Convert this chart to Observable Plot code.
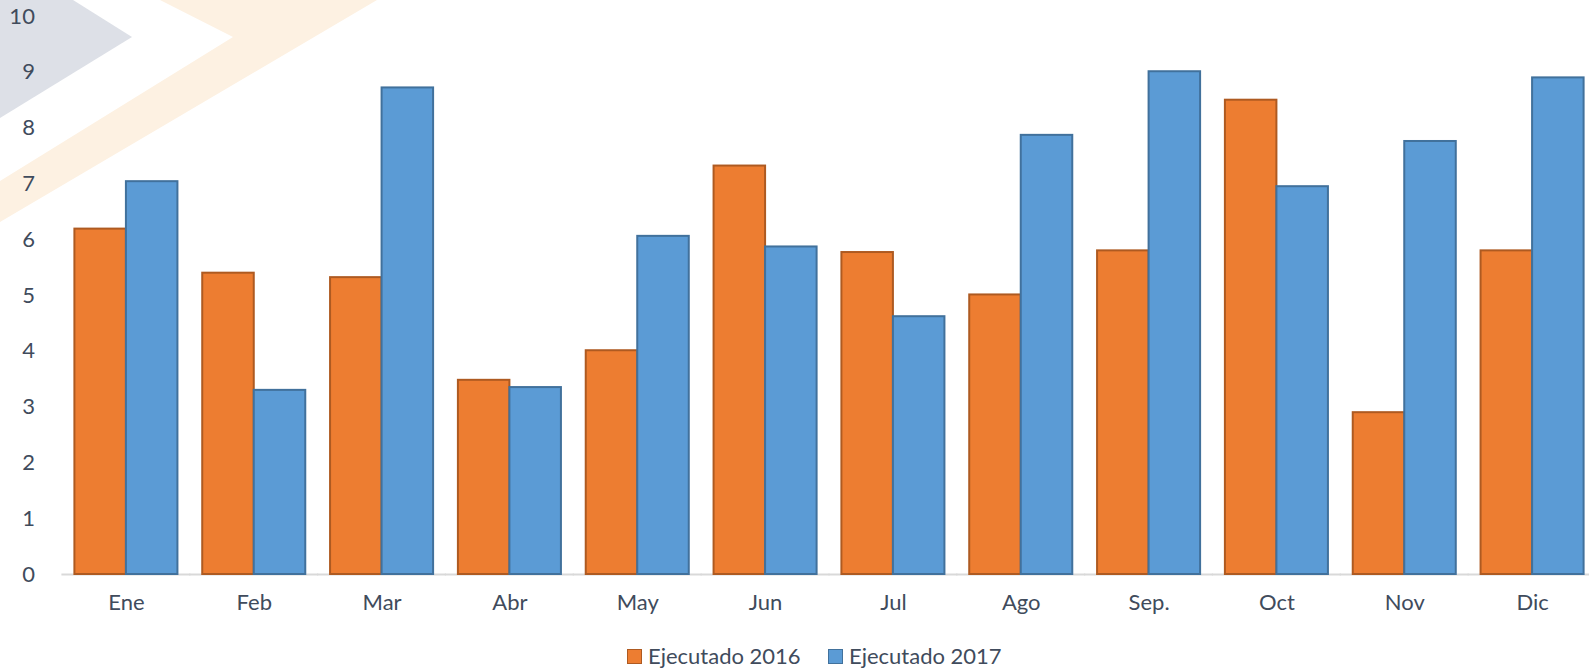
<!DOCTYPE html>
<html>
<head>
<meta charset="utf-8">
<script src="https://cdn.jsdelivr.net/npm/d3@7"></script>
<script src="https://cdn.jsdelivr.net/npm/@observablehq/plot@0.6"></script>
<style>
  html, body { margin: 0; padding: 0; background: #fff; overflow: hidden; }
  #wrap { position: relative; width: 1589px; height: 669px; overflow: hidden; font-family: Lato, "Open Sans", sans-serif; color: #404b5c; }
  #bg { position: absolute; left: 0; top: 0; z-index: 0; }
  #chart { position: absolute; left: 0; top: 0; z-index: 1; }
  #legend { position: absolute; left: 0; top: 630px; width: 1589px; height: 39px; z-index: 1; }
  .item { position: absolute; top: 13px; display: flex; align-items: center; font-size: 22px; line-height: 26px; }
  .sw { width: 13px; height: 13px; margin-right: 6px; box-sizing: content-box; }
</style>
</head>
<body>
<div id="wrap">
  <svg id="bg" width="1589" height="669">
    <polygon points="0,0 73,0 132,37 0,118" fill="#dde0e7"/>
    <polygon points="160,0 377,0 0,222 0,181 233,37" fill="#fdf1e2"/>
  </svg>
  <div id="chart"></div>
  <div id="legend"></div>
</div>
<script>
const months = ["Ene","Feb","Mar","Abr","May","Jun","Jul","Ago","Sep.","Oct","Nov","Dic"];
const series = ["Ejecutado 2016","Ejecutado 2017"];
const ejecutado2016 = [6.19, 5.40, 5.32, 3.48, 4.01, 7.32, 5.77, 5.01, 5.80, 8.50, 2.90, 5.80];
const ejecutado2017 = [7.04, 3.30, 8.72, 3.35, 6.06, 5.87, 4.62, 7.87, 9.01, 6.95, 7.76, 8.90];
const yTicks = [0,1,2,3,4,5,6,7,8,9,10];
const fills = ["#ed7d31", "#5b9bd5"];
const strokes = ["#ae5a21", "#41719c"];

const data2016 = months.map((m, i) => ({month: m, serie: series[0], value: ejecutado2016[i]}));
const data2017 = months.map((m, i) => ({month: m, serie: series[1], value: ejecutado2017[i]}));

const textColor = "#404b5c";

const chart = Plot.plot({
  width: 1589,
  height: 630,
  marginLeft: 62,
  marginRight: -7,
  marginTop: 16,
  marginBottom: 56,
  style: {background: "none", fontFamily: "Lato, 'Open Sans', sans-serif", color: textColor, overflow: "visible"},
  fx: {domain: months, paddingInner: 0.194, paddingOuter: 0.097, round: false, label: null},
  x: {domain: series, padding: 0, round: false, axis: null},
  y: {domain: [0, 10], axis: null},
  marks: [
    Plot.ruleY([0], {stroke: "#d9d9d9", strokeWidth: 2, insetLeft: -13, insetRight: -13}),
    Plot.barY(data2016, {fx: "month", x: "serie", y: "value", fill: fills[0], stroke: strokes[0], strokeWidth: 2, inset: 0}),
    Plot.barY(data2017, {fx: "month", x: "serie", y: "value", fill: fills[1], stroke: strokes[1], strokeWidth: 2, inset: 0}),
    Plot.axisY(yTicks, {tickSize: 0, tickPadding: 40, fontSize: 22, fill: textColor, label: null, tickFormat: d => String(d)}),
    Plot.axisFx({anchor: "bottom", tickSize: 0, tickPadding: 20, fontSize: 22, fill: textColor, label: null})
  ]
});
document.getElementById("chart").appendChild(chart);

const legend = document.getElementById("legend");
const lefts = [627, 828];
series.forEach((s, i) => {
  const it = document.createElement("div");
  it.className = "item";
  it.style.left = lefts[i] + "px";
  const sw = document.createElement("span");
  sw.className = "sw";
  sw.style.background = fills[i];
  sw.style.border = "1px solid " + strokes[i];
  const t = document.createElement("span");
  t.textContent = s;
  it.appendChild(sw);
  it.appendChild(t);
  legend.appendChild(it);
});
</script>
</body>
</html>
